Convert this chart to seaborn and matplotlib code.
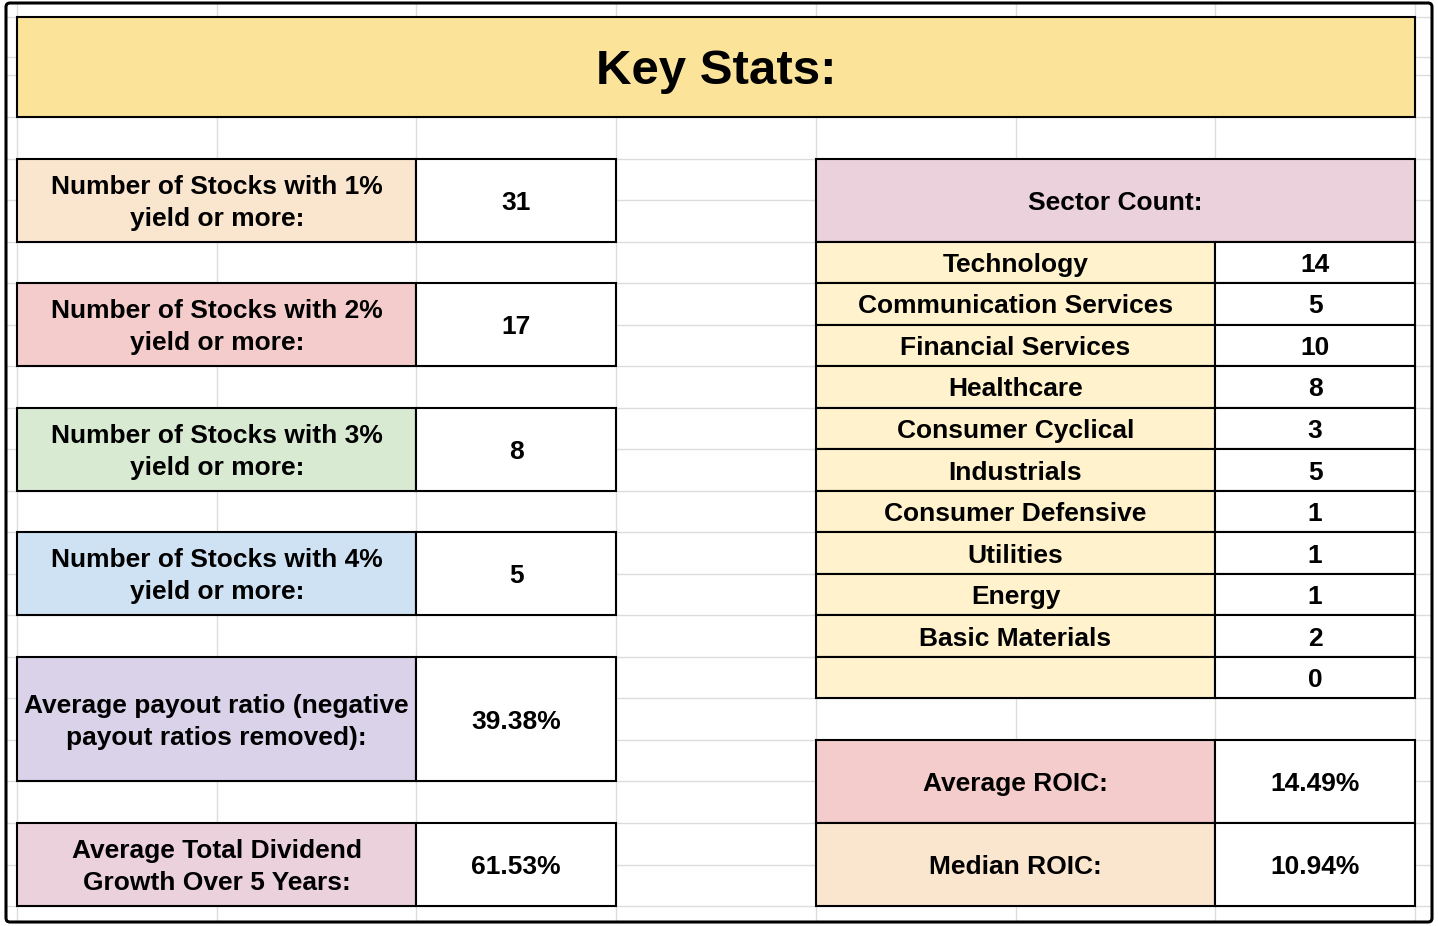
import matplotlib
matplotlib.use("Agg")
import matplotlib.pyplot as plt
import seaborn as sns
from matplotlib.patches import Rectangle, FancyBboxPatch

# ---- data ----
title = "Key Stats:"

yield_labels = ["Number of Stocks with 1%\nyield or more:",
                "Number of Stocks with 2%\nyield or more:",
                "Number of Stocks with 3%\nyield or more:",
                "Number of Stocks with 4%\nyield or more:"]
yield_counts = [31, 17, 8, 5]
yield_colors = ["#fae5cf", "#f4cccc", "#d9ead3", "#cfe2f3"]

payout_label = "Average payout ratio (negative\npayout ratios removed):"
payout_value = 39.38
growth_label = "Average Total Dividend\nGrowth Over 5 Years:"
growth_value = 61.53

sector_header = "Sector Count:"
sectors = ["Technology", "Communication Services", "Financial Services", "Healthcare",
           "Consumer Cyclical", "Industrials", "Consumer Defensive", "Utilities",
           "Energy", "Basic Materials", ""]
sector_counts = [14, 5, 10, 8, 3, 5, 1, 1, 1, 2, 0]

roic_labels = ["Average ROIC:", "Median ROIC:"]
roic_values = [14.49, 10.94]
roic_colors = ["#f4cccc", "#fae5cf"]

# ---- sheet geometry ----
W, H = 1438, 926
X0, COLW, NCOL = 17, 199.71, 7
Y_TITLE_TOP, Y_TITLE_BOT = 17, 117
ROWH, NROW = 41.53, 19

sns.set_theme(style="white")
plt.rcParams['font.family'] = ['Liberation Sans', 'DejaVu Sans']

fig = plt.figure(figsize=(W / 100, H / 100), dpi=100)
ax = fig.add_axes([0, 0, 1, 1])
ax.set_xlim(0, W)
ax.set_ylim(H, 0)
ax.axis("off")

GRID = "#dcdcdc"
def cx(c):
    return X0 + c * COLW
def ry(r):
    return Y_TITLE_BOT + r * ROWH

# light spreadsheet gridlines
for c in range(NCOL + 1):
    ax.plot([cx(c), cx(c)], [3, 922], color=GRID, lw=1.0, zorder=1)
for y in [Y_TITLE_TOP, 57, 75] + [ry(r) for r in range(NROW + 1)]:
    ax.plot([6, 1432], [y, y], color=GRID, lw=1.0, zorder=1)

def cell(c0, c1, r0, r1, face, text="", size=19):
    x, y = cx(c0), ry(r0)
    w, h = cx(c1) - x, ry(r1) - y
    ax.add_patch(Rectangle((x, y), w, h, facecolor=face, edgecolor="black",
                           lw=1.5, zorder=3))
    if text != "":
        ax.text(x + w / 2, y + h / 2 + 2.5, text, ha="center", va="center",
                fontsize=size, fontweight="bold", color="black",
                linespacing=1.42, zorder=4)

# title band
ax.add_patch(Rectangle((cx(0), Y_TITLE_TOP), cx(7) - cx(0), Y_TITLE_BOT - Y_TITLE_TOP,
                       facecolor="#fbe49a", edgecolor="black", lw=1.5, zorder=3))
ax.text((cx(0) + cx(7)) / 2, (Y_TITLE_TOP + Y_TITLE_BOT) / 2 + 4, title,
        ha="center", va="center", fontsize=35.5, fontweight="bold",
        color="black", zorder=4)

# left column blocks
left_rows = [1, 4, 7, 10]
for r, lab, val, col in zip(left_rows, yield_labels, yield_counts, yield_colors):
    cell(0, 2, r, r + 2, col, lab)
    cell(2, 3, r, r + 2, "white", str(val))
cell(0, 2, 13, 16, "#d9d2e9", payout_label)
cell(2, 3, 13, 16, "white", f"{payout_value:.2f}%")
cell(0, 2, 17, 19, "#ead1dc", growth_label)
cell(2, 3, 17, 19, "white", f"{growth_value:.2f}%")

# sector table
cell(4, 7, 1, 3, "#ead1dc", sector_header)
for i, (s, n) in enumerate(zip(sectors, sector_counts)):
    cell(4, 6, 3 + i, 4 + i, "#fff2cc", s)
    cell(6, 7, 3 + i, 4 + i, "white", str(n))

# ROIC
for i, (lab, val, col) in enumerate(zip(roic_labels, roic_values, roic_colors)):
    cell(4, 6, 15 + 2 * i, 17 + 2 * i, col, lab)
    cell(6, 7, 15 + 2 * i, 17 + 2 * i, "white", f"{val:.2f}%")

# outer frame
ax.add_patch(FancyBboxPatch((6, 3), 1426, 919, boxstyle="round,pad=0,rounding_size=4",
                            facecolor="none", edgecolor="black", lw=2.2, zorder=5))

fig.savefig("out.png", dpi=100)
